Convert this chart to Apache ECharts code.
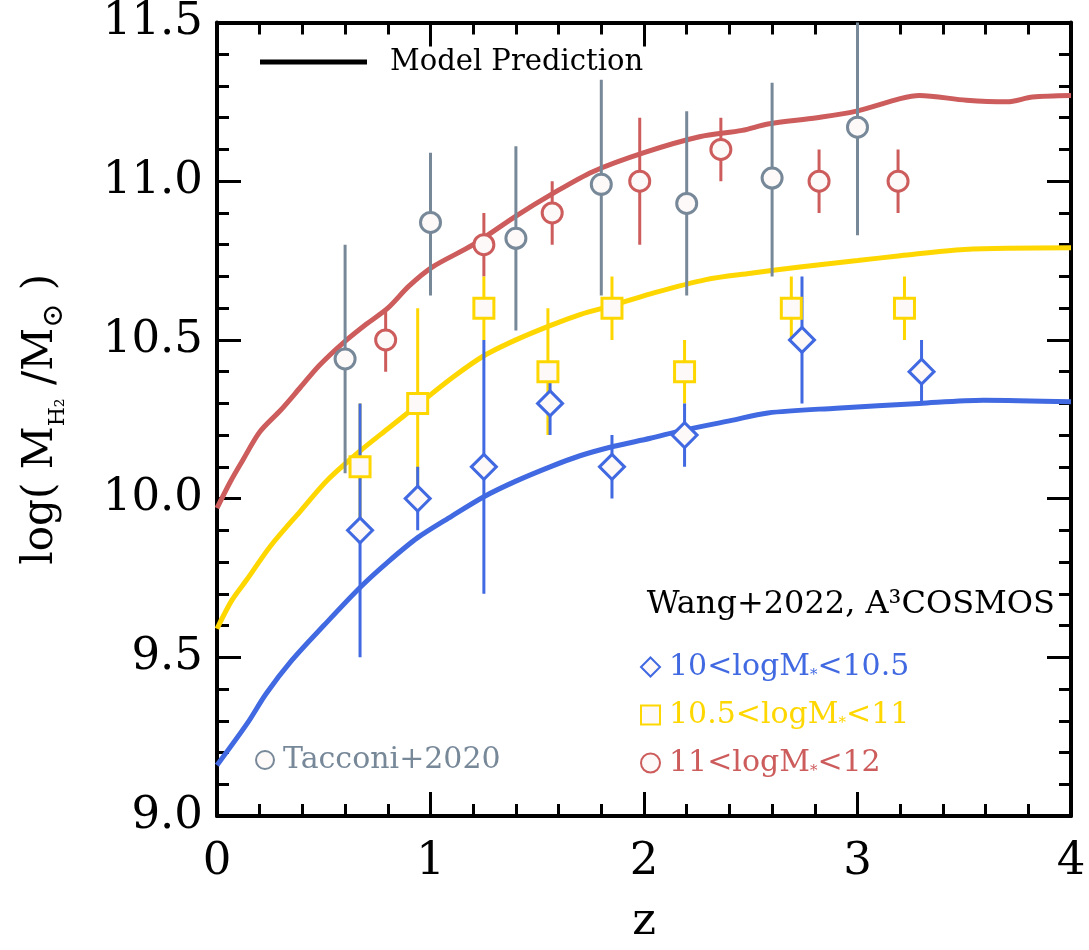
<!DOCTYPE html>
<html>
<head>
<meta charset="utf-8">
<script src="https://cdn.jsdelivr.net/npm/echarts@6/dist/echarts.min.js"></script>
<style>
  html, body { margin: 0; background: #fff; }
  #chart { width: 1089px; height: 950px; }
</style>
</head>
<body>
<div id="chart"></div>
<script>
// model predictions, [z, log M_H2]
var modelLow = [[0, 9.16], [0.14, 9.29], [0.23, 9.385], [0.35, 9.49], [0.5, 9.6], [0.67, 9.72], [0.8, 9.8], [0.94, 9.877],
  [1.1, 9.945], [1.25, 10.006], [1.4, 10.055], [1.56, 10.1], [1.7, 10.135], [1.86, 10.165], [2.03, 10.19], [2.18, 10.215],
  [2.4, 10.245], [2.58, 10.27], [2.9, 10.285], [3.29, 10.3], [3.59, 10.31], [4.0, 10.305]]
var modelMid = [[0, 9.59], [0.07, 9.68], [0.14, 9.745], [0.25, 9.85], [0.39, 9.96], [0.52, 10.06], [0.67, 10.15], [0.8, 10.22],
  [0.95, 10.3], [1.1, 10.38], [1.25, 10.45], [1.4, 10.5], [1.56, 10.545], [1.7, 10.58], [1.86, 10.61], [2.03, 10.645],
  [2.29, 10.69], [2.5, 10.71], [2.73, 10.73], [3.0, 10.75], [3.2, 10.765], [3.5, 10.785], [4.0, 10.79]]
var modelHigh = [[0, 9.97], [0.06, 10.05], [0.12, 10.12], [0.2, 10.21], [0.3, 10.28], [0.39, 10.35], [0.48, 10.42], [0.59, 10.49],
  [0.7, 10.55], [0.8, 10.6], [0.9, 10.67], [1.01, 10.73], [1.2, 10.8], [1.4, 10.89], [1.57, 10.96], [1.76, 11.03],
  [2.0, 11.09], [2.26, 11.14], [2.46, 11.16], [2.58, 11.18], [2.81, 11.2], [2.99, 11.22], [3.2, 11.26], [3.29, 11.27],
  [3.51, 11.255], [3.7, 11.25], [3.82, 11.265], [4.0, 11.27]]

// Tacconi+2020
var tacZ  = [0.6, 1.0, 1.4, 1.8, 2.2, 2.6, 3.0]
var tacY  = [10.44, 10.87, 10.82, 10.99, 10.93, 11.01, 11.17]
var tacLo = [10.08, 10.64, 10.53, 10.64, 10.64, 10.70, 10.83]
var tacHi = [10.80, 11.09, 11.11, 11.32, 11.22, 11.31, 11.55]

// Wang+2022, A3COSMOS
var lowZ  = [0.67, 0.94, 1.25, 1.56, 1.85, 2.19, 2.74, 3.30]
var lowY  = [9.9, 10.0, 10.1, 10.3, 10.1, 10.2, 10.5, 10.4]
var lowLo = [9.5, 9.9, 9.7, 10.2, 10.0, 10.1, 10.3, 10.3]
var lowHi = [10.3, 10.1, 10.5, 10.4, 10.2, 10.3, 10.7, 10.5]

var midZ  = [0.67, 0.94, 1.25, 1.55, 1.85, 2.19, 2.69, 3.22]
var midY  = [10.1, 10.3, 10.6, 10.4, 10.6, 10.4, 10.6, 10.6]
var midLo = [9.9, 10.0, 10.5, 10.2, 10.5, 10.3, 10.5, 10.5]
var midHi = [10.3, 10.6, 10.7, 10.6, 10.7, 10.5, 10.7, 10.7]

var highZ  = [0.79, 1.25, 1.57, 1.98, 2.36, 2.82, 3.19]
var highY  = [10.5, 10.8, 10.9, 11.0, 11.1, 11.0, 11.0]
var highLo = [10.4, 10.7, 10.8, 10.8, 11.0, 10.9, 10.9]
var highHi = [10.6, 10.9, 11.0, 11.2, 11.2, 11.1, 11.1]

var BLUE = '#4169e1', GOLD = '#ffd700', RED = '#cd5c5c', GREY = '#778899'
var FONT = 'DejaVu Serif'
var names = ['10<logM*<10.5', '10.5<logM*<11', '11<logM*<12']

function pts (z, y) {
  return z.map(function (v, i) { return [v, y[i]] })
}

function errBars (name, z, lo, hi, color) {
  return {
    type: 'custom',
    name: name + ' err',
    data: z.map(function (v, i) { return [v, lo[i], hi[i]] }),
    encode: { x: 0, y: [1, 2] },
    clip: true,
    silent: true,
    z: 3,
    renderItem: function (params, api) {
      var a = api.coord([api.value(0), api.value(1)])
      var b = api.coord([api.value(0), api.value(2)])
      return {
        type: 'line',
        shape: { x1: a[0], y1: a[1], x2: b[0], y2: b[1] },
        style: { stroke: color, lineWidth: 3 }
      }
    }
  }
}

function model (data, color) {
  return {
    type: 'line', data: data, smooth: 0.3, symbol: 'none', z: 2, silent: true,
    lineStyle: { color: color, width: 5 }
  }
}

function marks (name, z, y, symbol, size, color) {
  return {
    type: 'scatter', name: name, data: pts(z, y), symbol: symbol, symbolSize: size, z: 4,
    itemStyle: { color: '#fdf9f9', borderColor: color, borderWidth: 3, opacity: 1 }
  }
}

var axisCommon = {
  axisLine: { show: true, onZero: false, lineStyle: { color: '#000', width: 4 } },
  axisTick: { show: true, inside: true, length: 24, lineStyle: { color: '#000', width: 3 } },
  minorTick: { show: true, splitNumber: 5, length: 12, lineStyle: { color: '#000', width: 3 } },
  splitLine: { show: false },
  minorSplitLine: { show: false }
}

var chart = echarts.init(document.getElementById('chart'))
chart.setOption({
  animation: false,
  backgroundColor: '#fff',
  grid: { left: 217, right: 18, top: 13, bottom: 125 },
  xAxis: [
    Object.assign({
      type: 'value', min: 0, max: 4, interval: 1, position: 'bottom',
      name: 'z', nameLocation: 'middle', nameGap: 84,
      nameTextStyle: { fontFamily: FONT, fontSize: 45, color: '#000' },
      axisLabel: { fontFamily: FONT, fontSize: 45, color: '#000', margin: 24 }
    }, axisCommon),
    Object.assign({
      type: 'value', min: 0, max: 4, interval: 1, position: 'top',
      axisLabel: { show: false }
    }, axisCommon)
  ],
  yAxis: [
    Object.assign({
      type: 'value', min: 9, max: 11.5, interval: 0.5, position: 'left',
      name: '{a|log( M}{s|H₂}{a| /M}{o|⊙}{a| )}',
      nameLocation: 'middle', nameGap: 148, nameRotate: 90,
      nameTextStyle: {
        fontFamily: FONT, color: '#000',
        rich: {
          a: { fontFamily: FONT, fontSize: 42, lineHeight: 56, color: '#000' },
          s: { fontFamily: FONT, fontSize: 22, lineHeight: 56, verticalAlign: 'bottom', color: '#000' },
          o: { fontFamily: FONT, fontSize: 29, lineHeight: 56, verticalAlign: 'bottom', color: '#000' }
        }
      },
      axisLabel: {
        fontFamily: FONT, fontSize: 45, color: '#000', margin: 14,
        formatter: function (v) { return v.toFixed(1) }
      }
    }, axisCommon),
    Object.assign({
      type: 'value', min: 9, max: 11.5, interval: 0.5, position: 'right',
      axisLabel: { show: false }
    }, axisCommon)
  ],
  legend: [
    {
      orient: 'vertical', left: 635, top: 647, itemWidth: 19, itemHeight: 19, itemGap: 17,
      selectedMode: false,
      data: names,
      formatter: function (name) {
        var k = ['b', 'y', 'r'][names.indexOf(name)]
        var p = name.split('*')
        return '{' + k + '|' + p[0] + '}{' + k + 's|*}{' + k + '|' + p[1] + '}'
      },
      textStyle: {
        padding: [0, 0, 0, 4],
        rich: {
          b: { fontFamily: FONT, fontSize: 30, lineHeight: 32, color: BLUE },
          bs: { fontFamily: FONT, fontSize: 15, color: BLUE, verticalAlign: 'bottom', lineHeight: 32 },
          y: { fontFamily: FONT, fontSize: 30, lineHeight: 32, color: GOLD },
          ys: { fontFamily: FONT, fontSize: 15, color: GOLD, verticalAlign: 'bottom', lineHeight: 32 },
          r: { fontFamily: FONT, fontSize: 30, lineHeight: 32, color: RED },
          rs: { fontFamily: FONT, fontSize: 15, color: RED, verticalAlign: 'bottom', lineHeight: 32 }
        }
      }
    },
    {
      left: 250, top: 740, itemWidth: 18, itemHeight: 18,
      selectedMode: false,
      data: ['Tacconi+2020'],
      textStyle: { fontFamily: FONT, fontSize: 30, color: GREY, padding: [0, 0, 0, 4] }
    }
  ],
  graphic: [
    { type: 'line', shape: { x1: 260, y1: 62, x2: 367, y2: 62 }, style: { stroke: '#000', lineWidth: 5 }, z: 10 },
    { type: 'text', x: 390, y: 62, style: { text: 'Model Prediction', font: '29px "DejaVu Serif"', fill: '#000', verticalAlign: 'middle' }, z: 10 },
    { type: 'text', x: 1055, y: 605, style: { text: 'Wang+2022, A³COSMOS', font: '32px "DejaVu Serif"', fill: '#000', align: 'right', verticalAlign: 'middle' }, z: 10 }
  ],
  series: [
    model(modelHigh, RED),
    model(modelMid, GOLD),
    model(modelLow, BLUE),
    errBars('Tacconi+2020', tacZ, tacLo, tacHi, GREY),
    errBars(names[2], highZ, highLo, highHi, RED),
    errBars(names[1], midZ, midLo, midHi, GOLD),
    errBars(names[0], lowZ, lowLo, lowHi, BLUE),
    marks('Tacconi+2020', tacZ, tacY, 'circle', 20, GREY),
    marks(names[2], highZ, highY, 'circle', 20, RED),
    marks(names[1], midZ, midY, 'rect', 20, GOLD),
    marks(names[0], lowZ, lowY, 'diamond', 25, BLUE)
  ]
})
</script>
</body>
</html>
